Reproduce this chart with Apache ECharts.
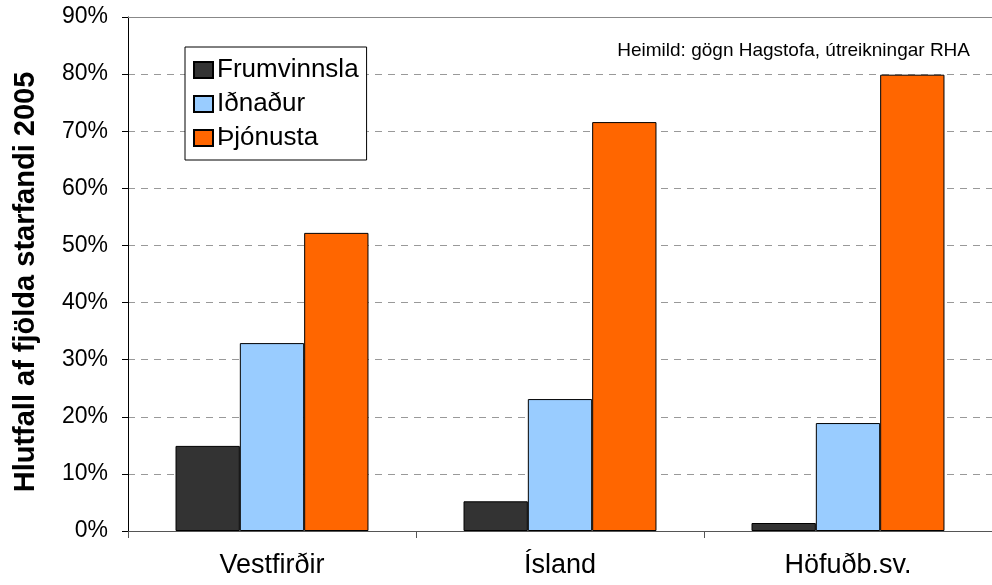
<!DOCTYPE html>
<html>
<head>
<meta charset="utf-8">
<script src="https://cdn.jsdelivr.net/npm/echarts@6/dist/echarts.min.js"></script>
<style>
  body { margin: 0; background: #fff; }
  #chart { width: 992px; height: 585px; }
</style>
</head>
<body>
<div id="chart"></div>
<script>
const regions = ["Vestfirðir", "Ísland", "Höfuðb.sv."];
const frumvinnsla = [14.9, 5.2, 1.4];
const idnadur = [32.9, 23.1, 18.9];
const thjonusta = [52.2, 71.6, 79.9];
const seriesNames = ["Frumvinnsla", "Iðnaður", "Þjónusta"];
const colors = ["#333333", "#99ccff", "#ff6600"];

const dom = document.getElementById("chart");
const myChart = echarts.init(dom);

const font = "Liberation Sans, Arial, sans-serif";

function barSeries(name, data, color) {
  return {
    name: name,
    type: "bar",
    data: data,
    barGap: "0%",
    barCategoryGap: "33%",
    itemStyle: { color: color, borderColor: "#000", borderWidth: 1 },
  };
}

const option = {
  animation: false,
  textStyle: { fontFamily: font },
  grid: { left: 128, right: -5, top: 17, bottom: 54 },
  title: {
    text: "Heimild: gögn Hagstofa, útreikningar RHA",
    right: 17,
    top: 36,
    textStyle: { fontSize: 19, fontWeight: "normal", color: "#000", fontFamily: font },
  },
  legend: {
    orient: "vertical",
    left: 185,
    top: 47,
    padding: [10, 8, 9, 8],
    itemGap: 8,
    itemWidth: 19,
    itemHeight: 16,
    icon: "rect",
    borderColor: "#000",
    borderWidth: 1,
    backgroundColor: "#fff",
    textStyle: { fontSize: 26, lineHeight: 25, color: "#000", fontFamily: font, padding: [0, 0, 0, -1] },
    data: seriesNames,
  },
  xAxis: [
    {
      type: "category",
      data: regions,
      axisLine: { lineStyle: { color: "#555", width: 1 } },
      axisTick: { show: true, length: 7, lineStyle: { color: "#555" } },
      axisLabel: { fontSize: 27, color: "#000", margin: 21 },
    },
    {
      type: "category",
      position: "top",
      data: regions,
      axisLine: { lineStyle: { color: "#888", width: 1 } },
      axisTick: { show: false },
      axisLabel: { show: false },
    },
  ],
  yAxis: {
    type: "value",
    min: 0,
    max: 90,
    interval: 10,
    name: "Hlutfall af fjölda starfandi 2005",
    nameLocation: "middle",
    nameGap: 88,
    nameTextStyle: { fontSize: 29, fontWeight: "bold", color: "#000", fontFamily: font, padding: [0, 16, 0, 0] },
    axisLine: { show: true, lineStyle: { color: "#000", width: 1 } },
    axisTick: { show: true, length: 6, lineStyle: { color: "#000" } },
    axisLabel: { fontSize: 23, color: "#000", margin: 20, formatter: "{value}%" },
    splitLine: { lineStyle: { color: "#999", type: [7, 6], width: 1 } },
  },
  series: [
    barSeries(seriesNames[0], frumvinnsla, colors[0]),
    barSeries(seriesNames[1], idnadur, colors[1]),
    barSeries(seriesNames[2], thjonusta, colors[2]),
  ],
};

myChart.setOption(option);
</script>
</body>
</html>
